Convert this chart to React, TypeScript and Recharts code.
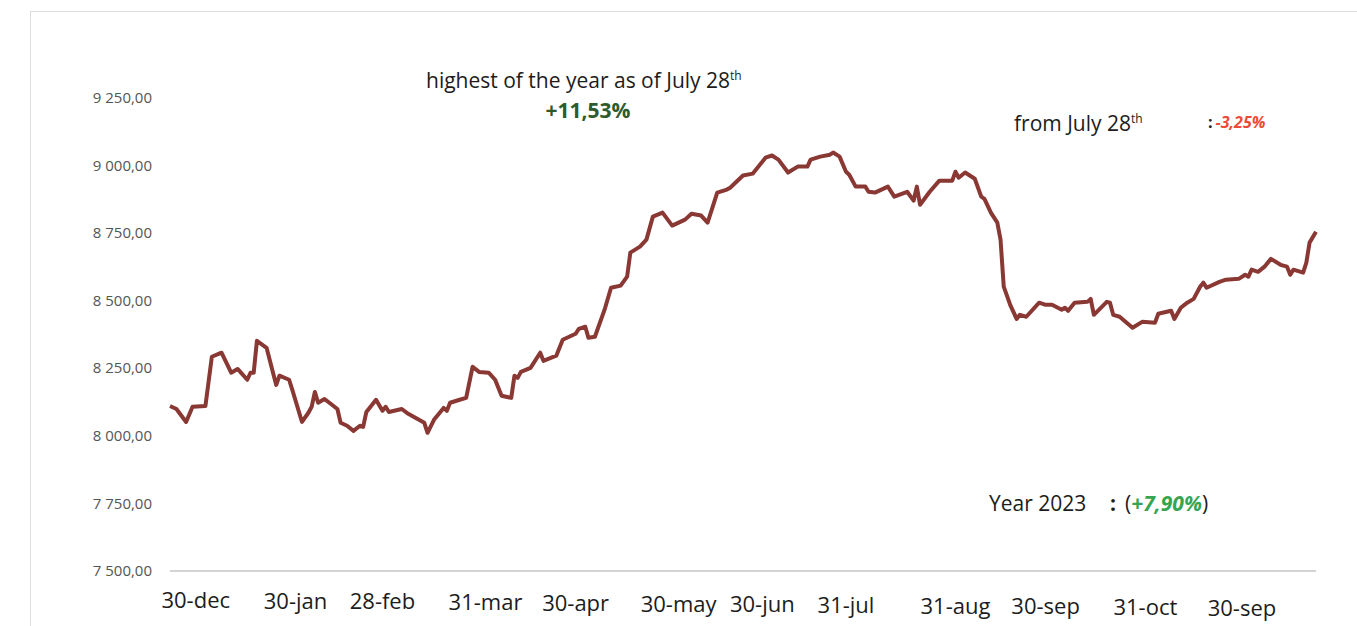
import { LineChart, Line, XAxis, YAxis } from 'recharts';

// calendar days counted from 30-dec
const days = [
  0, 2, 5, 7, 11, 13, 16, 19, 21, 24, 25, 26, 27, 30, 32, 33, 34, 37, 38, 41, 43, 44, 45, 46, 48,
  52, 53, 55, 57, 59, 60, 61, 64, 66, 67, 68, 72, 74, 79, 80, 82, 85, 86, 87, 90,
  92, 94, 96, 99, 101, 103, 106, 107, 108, 109, 112, 115, 116, 120, 122, 124, 126, 127, 129, 130,
  132, 135, 137, 140, 142, 143, 146, 148, 150, 153, 156, 160, 162, 165, 167, 169, 170, 173,
  174, 178, 181, 185, 187, 189, 192, 195, 198, 199, 202, 205, 206, 208, 210, 211, 213, 216, 217, 219,
  223, 225, 229, 231, 232, 233, 236, 239, 243, 244, 245, 247, 250, 252, 253, 255, 257, 258, 259, 261,
  263, 264, 266, 270, 272, 274, 277, 278, 279, 281, 285, 286, 287, 291, 292, 293, 295, 299, 302, 306,
  307, 311, 312, 314, 316, 318, 320, 321, 322, 326, 328, 332, 334, 335, 336, 338, 340, 342, 345, 347,
  348, 349, 352, 353, 354, 356,
];

const values = [
  8110, 8099, 8051, 8107, 8110, 8292, 8307, 8233, 8247, 8207, 8233, 8233, 8351, 8325, 8233, 8188, 8222, 8207, 8170, 8051, 8085, 8107, 8162, 8122, 8136,
  8099, 8048, 8037, 8018, 8037, 8033, 8088, 8133, 8092, 8107, 8088, 8099, 8081, 8048, 8011, 8059, 8103, 8092, 8122, 8133,
  8140, 8255, 8236, 8233, 8207, 8148, 8140, 8222, 8214, 8236, 8251, 8307, 8277, 8296, 8355, 8366, 8377, 8395, 8403, 8362,
  8366, 8466, 8547, 8555, 8588, 8677, 8699, 8725, 8810, 8825, 8777, 8799, 8821, 8814, 8788, 8862, 8899, 8910,
  8917, 8962, 8969, 9028, 9036, 9021, 8973, 8995, 8995, 9021, 9032, 9039, 9047, 9032, 8976, 8965, 8921, 8921, 8902, 8899,
  8921, 8884, 8902, 8869, 8921, 8854, 8902, 8943, 8943, 8976, 8954, 8973, 8950, 8884, 8876, 8825, 8788, 8725, 8551, 8484,
  8432, 8447, 8440, 8492, 8484, 8484, 8466, 8473, 8462, 8492, 8495, 8506, 8447, 8495, 8492, 8447, 8440, 8399, 8421, 8418,
  8451, 8462, 8432, 8473, 8492, 8506, 8551, 8566, 8547, 8569, 8577, 8580, 8595, 8588, 8614, 8606, 8625, 8654, 8632, 8625,
  8595, 8614, 8603, 8640, 8714, 8754,
];

const yTicks = [7500, 7750, 8000, 8250, 8500, 8750, 9000, 9250];
const xTickDays = [8, 39, 66, 98, 126, 158, 184, 210, 244, 272, 303, 333];
const xTickLabels = ['30-dec', '30-jan', '28-feb', '31-mar', '30-apr', '30-may', '30-jun', '31-jul', '31-aug', '30-sep', '31-oct', '30-sep'];

const data = days.map((d, i) => ({ day: d, value: values[i] }));

const FONT = '"Open Sans", sans-serif';

// "9 250,00"
const fmtY = (v: number) => `${Math.floor(v / 1000)} ${String(v % 1000).padStart(3, '0')},00`;

function DateTick(props: any) {
  const { x, y, index } = props;
  // the scan is slightly skewed, labels drift down to the right
  const drop = 37 + (x - 195) * 0.0076;
  return (
    <text x={x} y={y + drop} textAnchor="middle" fontSize={22} fill="#1c1c1c" fontFamily={FONT}>
      {xTickLabels[index]}
    </text>
  );
}

export default function App() {
  return (
    <div style={{ position: 'absolute', left: 0, top: 0, width: 1357, height: 626, background: '#fff', overflow: 'hidden' }}>
      <div style={{ position: 'absolute', left: 30, top: 11, right: 0, bottom: 0, borderTop: '1.5px solid #dedede', borderLeft: '1.5px solid #dedede' }} />
      <div style={{ position: 'absolute', left: 0, top: 0 }}>
        <LineChart width={1357} height={626} data={data} margin={{ top: 30, right: 41, bottom: 0, left: 0 }}>
          <XAxis
            dataKey="day"
            type="number"
            domain={[0, 356]}
            ticks={xTickDays}
            interval={0}
            height={55}
            tickLine={false}
            tickSize={0}
            tickMargin={0}
            axisLine={{ stroke: '#d4d4d4', strokeWidth: 2 }}
            tick={<DateTick />}
          />
          <YAxis
            type="number"
            domain={[7500, 9500]}
            ticks={yTicks}
            interval={0}
            width={170}
            axisLine={false}
            tickLine={false}
            tickSize={0}
            tickMargin={18}
            tickFormatter={fmtY}
            tick={{ fontSize: 15, fill: '#555', fontFamily: FONT }}
          />
          <Line
            type="linear"
            dataKey="value"
            stroke="#8a3834"
            strokeWidth={4}
            strokeLinejoin="round"
            dot={false}
            activeDot={false}
            isAnimationActive={false}
          />
        </LineChart>
      </div>
      <svg width={1357} height={626} style={{ position: 'absolute', left: 0, top: 0, pointerEvents: 'none' }} fontFamily={FONT}>
        <text x={426} y={88} fontSize={21} fill="#1c1c1c">
          highest of the year as of July 28<tspan fontSize={12} dy={-8}>th</tspan>
        </text>
        <text x={588} y={118} fontSize={21} fontWeight="bold" fill="#2f5a2b" textAnchor="middle">+11,53%</text>
        <text x={1014} y={131} fontSize={21} fill="#1c1c1c">
          from July 28<tspan fontSize={12} dy={-8}>th</tspan>
        </text>
        <text x={1208} y={128} fontSize={16} fontWeight="bold">
          <tspan fill="#222">:</tspan>
          <tspan fill="#ee4a36" fontStyle="italic" dx={3}>-3,25%</tspan>
        </text>
        <text x={989} y={511} fontSize={21} fill="#1c1c1c">Year 2023</text>
        <text x={1110} y={511} fontSize={21} fill="#1c1c1c">
          <tspan fontWeight="bold">:</tspan>
          <tspan dx={9}>(</tspan>
          <tspan fontWeight="bold" fontStyle="italic" fill="#36a552">+7,90%</tspan>
          <tspan>)</tspan>
        </text>
      </svg>
    </div>
  );
}
